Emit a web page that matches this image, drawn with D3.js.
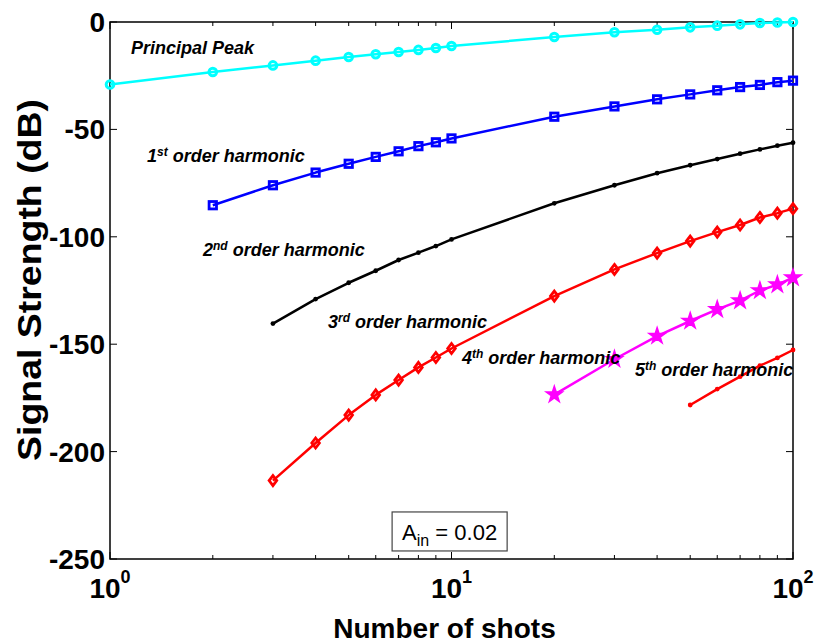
<!DOCTYPE html>
<html>
<head>
<meta charset="utf-8">
<script src="https://cdn.jsdelivr.net/npm/d3@7"></script>
<style>
  html, body { margin: 0; padding: 0; background: #fff; }
  svg { display: block; font-family: "Liberation Sans", Arial, sans-serif; }
</style>
</head>
<body>
<svg id="chart" width="816" height="643"></svg>
<script>
// Number of shots for each trace
const shotsPrincipal = [1, 2, 3, 4, 5, 6, 7, 8, 9, 10, 20, 30, 40, 50, 60, 70, 80, 90, 100];
const shotsH1 = [2, 3, 4, 5, 6, 7, 8, 9, 10, 20, 30, 40, 50, 60, 70, 80, 90, 100];
const shotsH2 = [3, 4, 5, 6, 7, 8, 9, 10, 20, 30, 40, 50, 60, 70, 80, 90, 100];
const shotsH3 = [3, 4, 5, 6, 7, 8, 9, 10, 20, 30, 40, 50, 60, 70, 80, 90, 100];
const shotsH4 = [20, 30, 40, 50, 60, 70, 80, 90, 100];
const shotsH5 = [50, 60, 70, 80, 90, 100];

// Signal strength (dB)
const principalPeak = [-29.1, -23.3, -20.2, -18.0, -16.3, -15.0, -14.0, -13.0, -12.1, -11.2,
                       -7.0, -4.8, -3.6, -2.5, -1.7, -1.1, -0.5, -0.2, 0.0];
const harmonic1 = [-85.3, -76.0, -70.1, -66.0, -62.8, -60.2, -57.8, -56.0, -54.2,
                   -44.1, -39.3, -36.0, -33.7, -31.8, -30.3, -29.3, -28.0, -27.3];
const harmonic2 = [-140.4, -129.0, -121.4, -115.8, -110.8, -107.4, -104.3, -101.2,
                   -84.4, -76.0, -70.4, -66.7, -63.8, -61.3, -59.3, -57.6, -56.2];
const harmonic3 = [-213.5, -196.0, -183.0, -173.6, -166.7, -160.8, -156.2, -152.0,
                   -127.6, -115.2, -107.6, -102.0, -97.8, -94.5, -91.0, -89.0, -86.9];
const harmonic4 = [-173.5, -157.0, -146.2, -139.2, -133.8, -129.7, -125.0, -122.3, -119.0];
const harmonic5 = [-178.3, -170.9, -165.1, -160.0, -156.4, -152.7];

// Axis ticks
const yTicks = [0, -50, -100, -150, -200, -250];
const xMajorTicks = [1, 10, 100];
const xMinorTicks = [2, 3, 4, 5, 6, 7, 8, 9, 20, 30, 40, 50, 60, 70, 80, 90];
const xTickExponents = ["0", "1", "2"];

// Trace labels: main text, superscript, rest; anchored in data coordinates
const labelMain = ["Principal Peak", "1", "2", "3", "4", "5"];
const labelSup = ["", "st", "nd", "rd", "th", "th"];
const labelRest = ["", " order harmonic", " order harmonic", " order harmonic", " order harmonic", " order harmonic"];
const labelShots = [1.152, 1.283, 1.872, 4.35, 10.73, 34.45];
const labelDb = [-14.9, -65.2, -108.9, -142.5, -159.2, -164.8];

const svg = d3.select("#chart");
const margin = { left: 110, right: 23, top: 22, bottom: 84 };
const W = +svg.attr("width"), H = +svg.attr("height");

const x = d3.scaleLog().domain([1, 100]).range([margin.left, W - margin.right]);
const y = d3.scaleLinear().domain([-250, 0]).range([H - margin.bottom, margin.top]);

const x0 = x.range()[0], x1 = x.range()[1];
const y0 = y.range()[0], y1 = y.range()[1];

// Tick marks on all four sides, pointing inward
const ticks = svg.append("g").attr("stroke", "#000").attr("stroke-width", 1);
xMajorTicks.concat(xMinorTicks).forEach(t => {
  const len = xMajorTicks.includes(t) ? 7 : 4;
  ticks.append("line").attr("x1", x(t)).attr("x2", x(t)).attr("y1", y0).attr("y2", y0 - len);
  ticks.append("line").attr("x1", x(t)).attr("x2", x(t)).attr("y1", y1).attr("y2", y1 + len);
});
yTicks.forEach(t => {
  ticks.append("line").attr("x1", x0).attr("x2", x0 + 7).attr("y1", y(t)).attr("y2", y(t));
  ticks.append("line").attr("x1", x1).attr("x2", x1 - 7).attr("y1", y(t)).attr("y2", y(t));
});

// Axis frame
svg.append("rect")
  .attr("x", x0).attr("y", y1)
  .attr("width", x1 - x0).attr("height", y0 - y1)
  .attr("fill", "none").attr("stroke", "#000").attr("stroke-width", 1.5);

// Y tick labels
svg.append("g").selectAll("text").data(yTicks).join("text")
  .attr("x", x0 - 5).attr("y", d => y(d))
  .attr("dy", "0.36em")
  .attr("text-anchor", "end")
  .attr("font-size", 28).attr("font-weight", "bold")
  .text(d => d);

// X tick labels as powers of ten
const xl = svg.append("g").selectAll("text").data(xMajorTicks).join("text")
  .attr("x", d => x(d)).attr("y", y0 + 39)
  .attr("text-anchor", "middle")
  .attr("font-size", 28).attr("font-weight", "bold");
xl.append("tspan").text("10");
xl.append("tspan").attr("font-size", 18).attr("dy", -15).text((d, i) => xTickExponents[i]);

// Axis titles
svg.append("text")
  .attr("x", (x0 + x1) / 2 - 7).attr("y", H - 5)
  .attr("text-anchor", "middle")
  .attr("font-size", 28).attr("font-weight", "bold")
  .text("Number of shots");

svg.append("text")
  .attr("transform", `translate(41, 280) rotate(-90)`)
  .attr("text-anchor", "middle")
  .attr("font-size", 34).attr("font-weight", "bold")
  .attr("textLength", 362).attr("lengthAdjust", "spacingAndGlyphs")
  .text("Signal Strength (dB)");

// Marker shapes
function circleMark(g, color) {
  return g.append("circle").attr("r", 3.8).attr("fill", "none").attr("stroke", color).attr("stroke-width", 3);
}
function squareMark(g, color) {
  return g.append("rect").attr("x", -3.7).attr("y", -3.7).attr("width", 7.4).attr("height", 7.4)
    .attr("fill", "none").attr("stroke", color).attr("stroke-width", 2.8);
}
function dotMark(g, color) {
  return g.append("circle").attr("r", 2.4).attr("fill", color);
}
function diamondMark(g, color) {
  return g.append("path").attr("d", "M0,-5 L3.8,0 L0,5 L-3.8,0 Z")
    .attr("fill", "none").attr("stroke", color).attr("stroke-width", 2.8);
}
function starMark(g, color) {
  return g.append("path").attr("d", d3.symbol(d3.symbolStar, 80)())
    .attr("fill", color).attr("stroke", color).attr("stroke-width", 1.5);
}

const series = [
  { xs: shotsPrincipal, ys: principalPeak, color: "#00ffff", mark: circleMark },
  { xs: shotsH1, ys: harmonic1, color: "#0000ff", mark: squareMark },
  { xs: shotsH2, ys: harmonic2, color: "#000000", mark: dotMark },
  { xs: shotsH3, ys: harmonic3, color: "#ff0000", mark: diamondMark },
  { xs: shotsH4, ys: harmonic4, color: "#ff00ff", mark: starMark },
  { xs: shotsH5, ys: harmonic5, color: "#ff0000", mark: dotMark }
];

const line = d3.line().x(d => x(d[0])).y(d => y(d[1]));
const plot = svg.append("g");
series.forEach(s => {
  const pts = s.xs.map((v, i) => [v, s.ys[i]]);
  plot.append("path").datum(pts)
    .attr("d", line)
    .attr("fill", "none").attr("stroke", s.color).attr("stroke-width", 2.5)
    .attr("stroke-linejoin", "round");
  pts.forEach(p => {
    const g = plot.append("g").attr("transform", `translate(${x(p[0])},${y(p[1])})`);
    s.mark(g, s.color);
  });
});

// Trace labels
const lbl = svg.append("g").selectAll("text").data(labelMain).join("text")
  .attr("x", (d, i) => x(labelShots[i])).attr("y", (d, i) => y(labelDb[i]))
  .attr("font-size", 18).attr("font-weight", "bold").attr("font-style", "italic")
  .attr("fill", "#000");
lbl.append("tspan").text(d => d);
lbl.append("tspan").attr("font-size", 12).attr("dy", -6).text((d, i) => labelSup[i]);
lbl.append("tspan").attr("dy", 6).text((d, i) => labelRest[i]);

// Input amplitude annotation
const note = svg.append("g");
const noteText = note.append("text")
  .attr("x", x(6.7) + 10).attr("y", y(-228.1) + 28)
  .attr("font-size", 22).attr("fill", "#000");
noteText.append("tspan").text("A");
noteText.append("tspan").attr("font-size", 16).attr("dy", 6).text("in");
noteText.append("tspan").attr("dy", -6).text(" = 0.02");
const bb = noteText.node().getBBox();
note.insert("rect", "text")
  .attr("x", x(6.7)).attr("y", y(-228.1))
  .attr("width", bb.x + bb.width + 10 - x(6.7)).attr("height", 39)
  .attr("fill", "#fff").attr("stroke", "#444").attr("stroke-width", 1.2);
</script>
</body>
</html>
